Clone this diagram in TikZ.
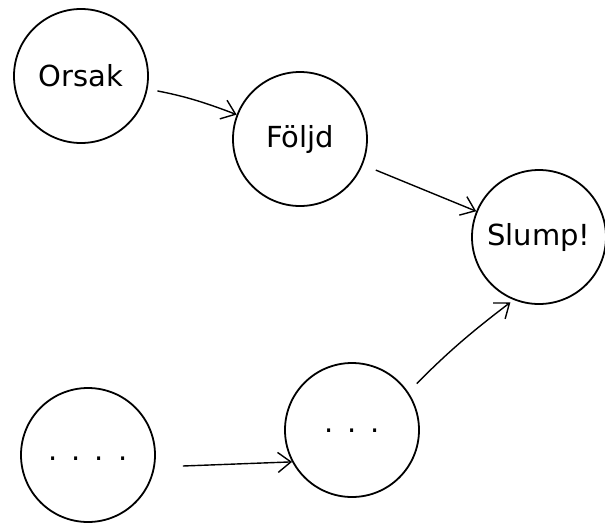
\documentclass[tikz,border=0pt]{standalone}
\usepackage{fontspec}
\setmainfont{DejaVu Sans}
\usetikzlibrary{arrows.meta}
\begin{document}
\begin{tikzpicture}[x=1pt,y=-1pt,
  state/.style={circle,draw,line width=1.8pt,minimum size=134pt,inner sep=0pt,font=\fontsize{29}{32}\selectfont},
  conn/.style={-{Straight Barb[length=13pt,width=20pt,line width=1.4pt]},line width=1.4pt}]
\useasboundingbox (0,0) rectangle (605,523);
\node[state] (orsak) at (81,76) {Orsak};
\node[state] (foljd) at (300,139) {Följd};
\node[state] (slump) at (539,237) {Slump!};
\node[state] (dl) at (88,455) {\raisebox{-11pt}{.\hspace{14pt}.\hspace{14pt}.\hspace{14pt}.}};
\node[state] (dm) at (352,430) {\raisebox{-4pt}{.\hspace{14pt}.\hspace{14pt}.}};
\coordinate (dlout) at ([shift={(27,11)}]dl.east);
\draw[conn,shorten <=10pt] (orsak) to[bend left=5] (foljd);
\draw[conn,shorten <=14pt] (foljd) to (slump);
\draw[conn] (dlout) to (dm.208);
\draw[conn,shorten <=12pt,shorten >=4pt] (dm.34) to[bend left=4] (slump.-112);
\end{tikzpicture}
\end{document}
